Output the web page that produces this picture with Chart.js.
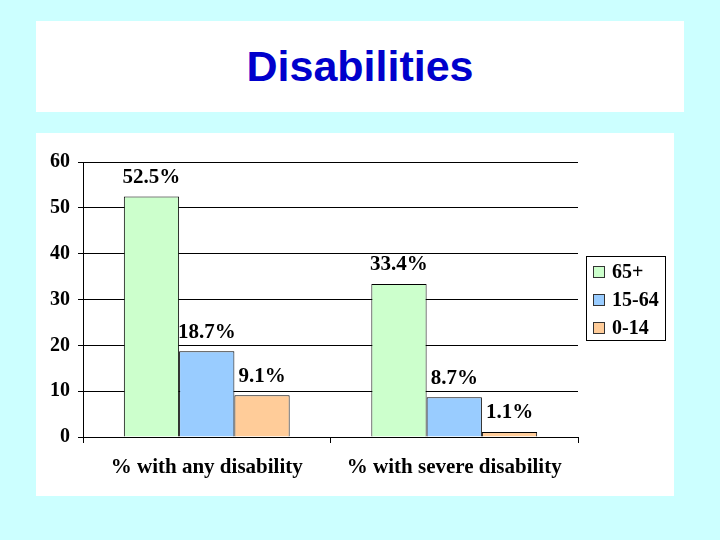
<!DOCTYPE html>
<html>
<head>
<meta charset="utf-8">
<script src="https://cdn.jsdelivr.net/npm/chart.js@4/dist/chart.umd.min.js"></script>
<style>
  body { margin: 0; width: 720px; height: 540px; background: #ccffff; position: relative; overflow: hidden; }
  .title-box { position: absolute; left: 36px; top: 21px; width: 648px; height: 91px; background: #fff;
    display: flex; align-items: center; justify-content: center; }
  .title-box h1 { margin: 0; font-family: 'Liberation Sans', Arial, sans-serif; font-weight: bold; font-size: 43px; color: #0000cc; }
  .chart-box { position: absolute; left: 36px; top: 133px; width: 638px; height: 363px; background: #fff; }
</style>
</head>
<body>
<div class="title-box"><h1>Disabilities</h1></div>
<div class="chart-box"><canvas id="chart" width="638" height="363"></canvas></div>
<script>
const categories = ['% with any disability', '% with severe disability'];
const seriesNames = ['65+', '15-64', '0-14'];
const age65plus = [52.5, 33.4];
const age15to64 = [18.7, 8.7];
const age0to14 = [9.1, 1.1];
const yTicks = [0, 10, 20, 30, 40, 50, 60];

const colors = ['#ccffcc', '#99ccff', '#ffcc99'];
const serif = "'Liberation Serif', 'Times New Roman', serif";
const tickFont = { family: serif, weight: 'bold', size: 20 };
const catFont = { family: serif, weight: 'bold', size: 21 };

// value labels above each bar
const barLabels = {
    id: 'barLabels',
    afterDatasetsDraw(chart) {
        const c = chart.ctx;
        c.save();
        c.font = 'bold 21px ' + serif;
        c.fillStyle = '#000';
        c.textAlign = 'center';
        c.textBaseline = 'middle';
        chart.data.datasets.forEach((ds, i) => {
            chart.getDatasetMeta(i).data.forEach((bar, j) => {
                c.fillText(ds.data[j].toFixed(1) + '%', bar.x, bar.y - 19);
            });
        });
        c.restore();
    }
};

// boxed legend to the right of the plot
const boxLegend = {
    id: 'boxLegend',
    afterDraw(chart) {
        const c = chart.ctx;
        const left = 550, top = 123, w = 79, h = 84;
        c.save();
        c.strokeStyle = '#000';
        c.lineWidth = 1;
        c.strokeRect(left + 0.5, top + 0.5, w, h);
        c.font = 'bold 20px ' + serif;
        c.textBaseline = 'middle';
        chart.data.datasets.forEach((ds, i) => {
            const y = top + 16 + i * 28;
            c.fillStyle = ds.backgroundColor;
            c.fillRect(left + 7, y - 6, 12, 12);
            c.strokeStyle = '#333';
            c.strokeRect(left + 7.5, y - 5.5, 11, 11);
            c.fillStyle = '#000';
            c.fillText(ds.label, left + 26, y + 1);
        });
        c.restore();
    }
};

new Chart(document.getElementById('chart'), {
    type: 'bar',
    data: {
        labels: categories,
        datasets: [age65plus, age15to64, age0to14].map((d, i) => ({
            label: seriesNames[i],
            data: d,
            backgroundColor: colors[i],
            borderColor: '#000',
            borderWidth: 1,
            categoryPercentage: 0.67,
            barPercentage: 1
        }))
    },
    options: {
        responsive: false,
        animation: false,
        layout: { padding: { top: 29, right: 96, left: 0, bottom: 0 } },
        plugins: { legend: { display: false }, tooltip: { enabled: false } },
        scales: {
            x: {
                afterFit(scale) { scale.height = 59; },
                grid: { drawOnChartArea: false, color: '#000', tickLength: 6 },
                border: { color: '#000' },
                ticks: { color: '#000', font: catFont, padding: 12, maxRotation: 0 }
            },
            y: {
                min: yTicks[0],
                max: yTicks[yTicks.length - 1],
                afterFit(scale) { scale.width = 47; },
                afterBuildTicks(scale) { scale.ticks = yTicks.map(v => ({ value: v })); },
                grid: { color: '#000', tickLength: 5 },
                border: { color: '#000' },
                ticks: { color: '#000', font: tickFont, padding: 8 }
            }
        }
    },
    plugins: [barLabels, boxLegend]
});
</script>
</body>
</html>
